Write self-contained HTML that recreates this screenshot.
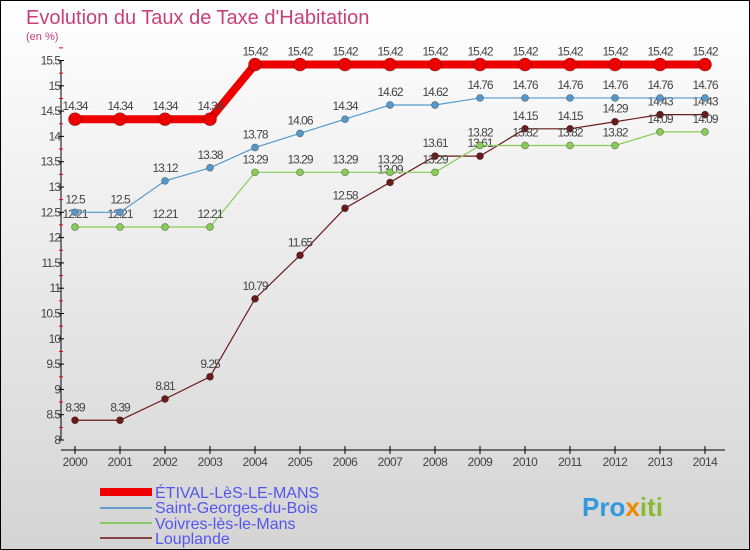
<!DOCTYPE html>
<html><head><meta charset="utf-8"><style>
body{margin:0}
#c{width:750px;height:550px;position:relative;overflow:hidden;font-family:"Liberation Sans",sans-serif}
svg text{font-family:"Liberation Sans",sans-serif}
</style></head><body>
<div id="c">
<svg id="s" width="750" height="550" xmlns="http://www.w3.org/2000/svg">
<defs><linearGradient id="bg" x1="0" y1="0" x2="0" y2="1"><stop offset="0" stop-color="#ffffff"/><stop offset="1" stop-color="#d4d4d4"/></linearGradient></defs>
<rect x="0.5" y="0.5" width="749" height="549" fill="url(#bg)" stroke="#000"/>
<text x="26" y="24" font-size="20" fill="#c8407a">Evolution du Taux de Taxe d'Habitation</text>
<text x="26" y="40" font-size="11" fill="#c8407a">(en %)</text>
<g id="axes"></g><g id="series"></g>
<g>
<line x1="100" y1="492" x2="152" y2="492" stroke="#ee0000" stroke-width="8"/>
<text x="155" y="498" font-size="16" fill="#5555ee">ÉTIVAL-LèS-LE-MANS</text>
<line x1="100" y1="508" x2="152" y2="508" stroke="#6699cc" stroke-width="2"/>
<text x="155" y="513" font-size="16" fill="#5555ee">Saint-Georges-du-Bois</text>
<line x1="100" y1="523" x2="152" y2="523" stroke="#88cc66" stroke-width="2"/>
<text x="155" y="529" font-size="16" fill="#5555ee">Voivres-lès-le-Mans</text>
<line x1="100" y1="538" x2="152" y2="538" stroke="#884444" stroke-width="2"/>
<text x="155" y="544" font-size="16" fill="#5555ee">Louplande</text>
</g>
<text x="582" y="516" font-size="26" font-weight="bold" fill="#3399dd">Pro<tspan fill="#ee8800">x</tspan><tspan fill="#88bb33">iti</tspan></text>
</svg></div>
<script>
const years=[2000,2001,2002,2003,2004,2005,2006,2007,2008,2009,2010,2011,2012,2013,2014];
const etival=[14.34,14.34,14.34,14.34,15.42,15.42,15.42,15.42,15.42,15.42,15.42,15.42,15.42,15.42,15.42];
const saintGeorges=[12.5,12.5,13.12,13.38,13.78,14.06,14.34,14.62,14.62,14.76,14.76,14.76,14.76,14.76,14.76];
const voivres=[12.21,12.21,12.21,12.21,13.29,13.29,13.29,13.29,13.29,13.82,13.82,13.82,13.82,14.09,14.09];
const louplande=[8.39,8.39,8.81,9.25,10.79,11.65,12.58,13.09,13.61,13.61,14.15,14.15,14.29,14.43,14.43];
const yTicks=[8,8.5,9,9.5,10,10.5,11,11.5,12,12.5,13,13.5,14,14.5,15,15.5];
const NS="http://www.w3.org/2000/svg";
const X=i=>75+i*45;
const Y=v=>440-(v-8)*50.6;
function mk(t,a,p){const e=document.createElementNS(NS,t);for(const k in a)e.setAttribute(k,a[k]);p.appendChild(e);return e;}
const ax=document.getElementById('axes');
const ya=mk('line',{x1:61,y1:60,x2:61,y2:440,stroke:'#000'},ax);


const xa=mk('line',{x1:61,y1:450,x2:725,y2:450,stroke:'#000'},ax);


yTicks.forEach(v=>{
  mk('line',{x1:58,y1:Y(v),x2:64,y2:Y(v),stroke:'#000'},ax);
  mk('line',{x1:59,y1:Y(v+0.25),x2:63,y2:Y(v+0.25),stroke:'#e00'},ax);
  const t=mk('text',{x:60,y:Y(v)+4,'font-size':12,'text-anchor':'end',fill:'#444','letter-spacing':'-1'},ax);
  t.textContent=v;
  
  
});
years.forEach((y,i)=>{
  mk('line',{x1:X(i),y1:446,x2:X(i),y2:454,stroke:'#000'},ax);
  const t=mk('text',{x:X(i),y:466,'font-size':12,'text-anchor':'middle',fill:'#444','letter-spacing':'-0.5'},ax);
  t.textContent=y;
  
  
});
const sg=document.getElementById('series');
function draw(data,color,w,r,name){
  const g=mk('g',{},sg);
  
  
  mk('polyline',{points:data.map((v,i)=>X(i)+','+Y(v)).join(' '),fill:'none',stroke:color,'stroke-width':w},g);
  data.forEach((v,i)=>{
    const c=mk('circle',{cx:X(i),cy:Y(v),r:r,fill:color,stroke:'rgba(0,0,0,0.4)','stroke-width':0.7},g);
    
    
    const t=mk('text',{x:X(i),y:Y(v)-9,'font-size':12,'text-anchor':'middle',fill:'#444','letter-spacing':'-1'},g);
    t.textContent=v;
    
    
  });
}
draw(louplande,'#6a1a1a',1.2,3.5,'louplande');
draw(voivres,'#88cc55',1.2,3.5,'voivres');
draw(saintGeorges,'#5599cc',1.2,3.5,'saint-georges');
draw(etival,'#ee0000',8,6.5,'etival');
</script>
</body></html>
